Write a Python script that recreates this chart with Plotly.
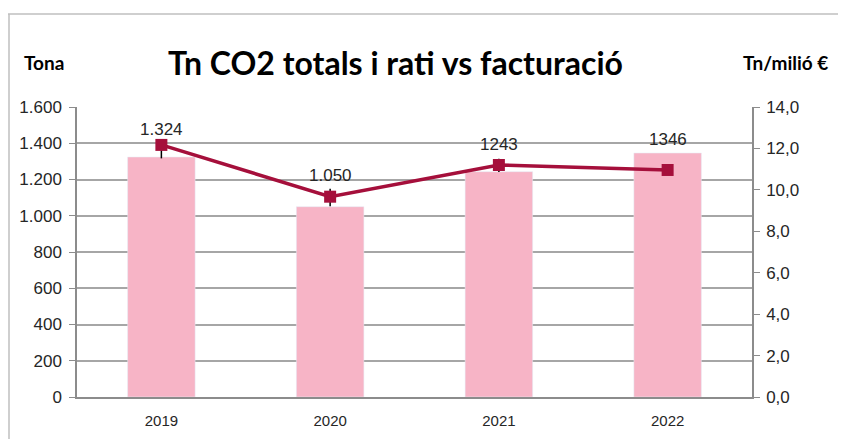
import plotly.graph_objects as go

years = ["2019", "2020", "2021", "2022"]
tonnes = [1324, 1050, 1243, 1346]
ratio = [12.17, 9.67, 11.2, 10.96]
ratio_err_plus = [0.22, 0.38, 0.3, 0.0]
ratio_err_minus = [0.65, 0.46, 0.34, 0.0]
label_texts = ["1.324", "1.050", "1243", "1346"]
label_shift = [28, 31, 27, 14]

xpos = list(range(len(years)))

FONT = "Liberation Sans"
BAR = "#F7B4C6"
LINE = "#A50F3B"
GRID = "#A6A6A6"
AXIS = "#8C8C8C"

# page body has an 8px margin: the figure is offset by (8, 8) in the window
OFF = 8
W, H = 846 - OFF, 439 - OFF
L, R, T, B = 77 - OFF, 94, 107 - OFF, 42
pw, ph = W - L - R, H - T - B

def px(xp):  # window pixel x -> paper x
    return (xp - OFF - L) / pw

def py(yp):  # window pixel y -> paper y
    return (H - B - (yp - OFF)) / ph

fig = go.Figure()
fig.add_trace(go.Bar(x=xpos, y=tonnes, marker_color=BAR, width=0.4, yaxis="y",
                     hoverinfo="skip"))
fig.add_trace(go.Scatter(x=xpos, y=ratio, yaxis="y2", mode="lines+markers",
                         line=dict(color=LINE, width=3.5),
                         marker=dict(symbol="square", size=12, color=LINE),
                         error_y=dict(type="data", symmetric=False, array=ratio_err_plus,
                                      arrayminus=ratio_err_minus, color="#000000",
                                      thickness=1.5, width=0)))

for x, y, t, s in zip(xpos, tonnes, label_texts, label_shift):
    fig.add_annotation(x=x, y=y, xref="x", yref="y", text=t, showarrow=False,
                       yanchor="middle", xanchor="center", yshift=s,
                       font=dict(family=FONT, size=17, color="#262626"))

fig.add_annotation(x=px(395), y=py(62), xref="paper", yref="paper",
                   text="<b>Tn CO2 totals i rati vs facturació</b>",
                   showarrow=False, xanchor="center", yanchor="middle",
                   font=dict(family="Lato", size=32, color="#000000"))
fig.add_annotation(x=px(44), y=py(62), xref="paper", yref="paper", text="<b>Tona</b>",
                   showarrow=False, xanchor="center", yanchor="middle",
                   font=dict(family="Lato", size=19, color="#000000"))
fig.add_annotation(x=px(785), y=py(62), xref="paper", yref="paper", text="<b>Tn/milió €</b>",
                   showarrow=False, xanchor="center", yanchor="middle",
                   font=dict(family="Lato", size=19, color="#000000"))

# chart frame
fig.add_shape(type="line", xref="paper", yref="paper", x0=px(8), x1=px(846), y0=py(14), y1=py(14),
              line=dict(color="#BFBFBF", width=1.5))
fig.add_shape(type="line", xref="paper", yref="paper", x0=px(9), x1=px(9), y0=py(14), y1=py(445),
              line=dict(color="#BFBFBF", width=1.5))

fig.update_layout(
    width=W, height=H, margin=dict(l=L, r=R, t=T, b=B, autoexpand=False),
    paper_bgcolor="white", plot_bgcolor="white", showlegend=False,
    separators=",.",
    font=dict(family=FONT, size=16, color="#262626"),
    xaxis=dict(range=[-0.5, len(years) - 0.5], tickvals=xpos, ticktext=years,
               showgrid=False, showline=True, linecolor=AXIS, linewidth=1.5, zeroline=False,
               ticks="", tickfont=dict(size=15, color="#262626"), ticklabelstandoff=9),
    yaxis=dict(range=[0, 1600], dtick=200, tickformat=",d", showgrid=True, gridcolor=GRID,
               gridwidth=1.5, showline=True, linecolor=AXIS, linewidth=1.5, ticks="outside",
               ticklen=6, tickcolor=AXIS, zeroline=False, ticklabelstandoff=4,
               tickfont=dict(size=17, color="#262626")),
    yaxis2=dict(range=[0, 14], dtick=2, tickformat=".1f", overlaying="y", side="right",
                showgrid=False, showline=True, linecolor=AXIS, linewidth=1.5, ticks="outside",
                ticklen=6, tickcolor=AXIS, zeroline=False, ticklabelstandoff=3,
                tickfont=dict(size=17, color="#262626")),
)

fig.write_html("out.html")
